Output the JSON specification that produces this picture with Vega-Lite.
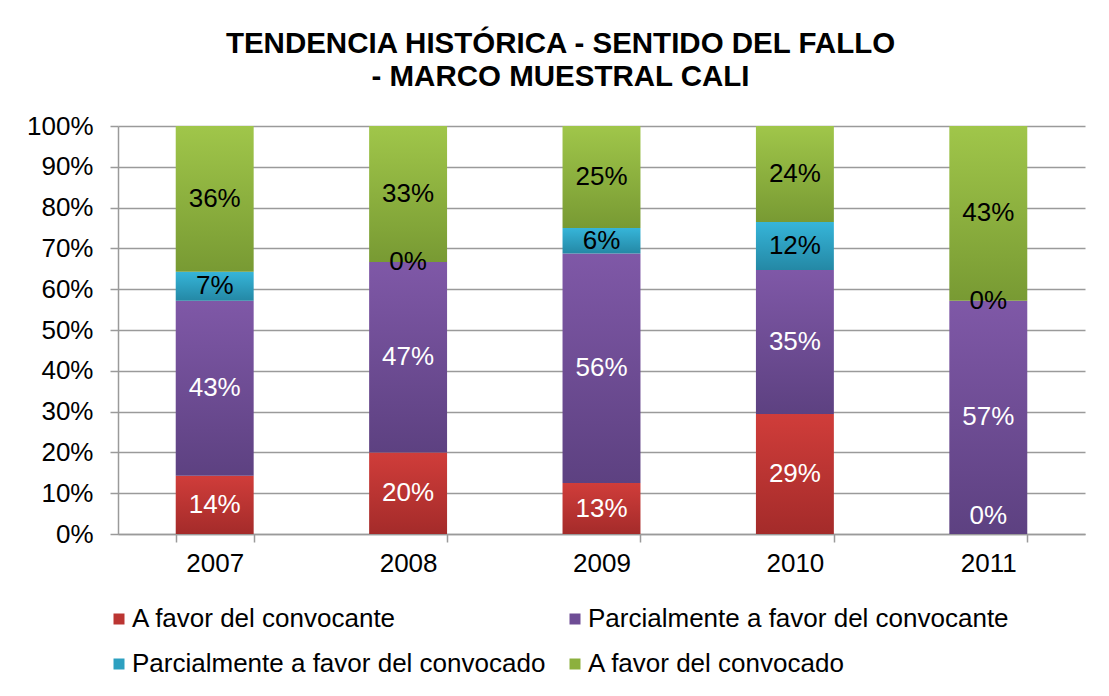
{
  "$schema": "https://vega.github.io/schema/vega-lite/v6.json",
  "width": 967,
  "height": 408,
  "autosize": "none",
  "padding": {"left": 118, "top": 126, "right": 24, "bottom": 162},
  "background": "white",
  "title": {
    "text": ["TENDENCIA HISTÓRICA - SENTIDO DEL FALLO", "- MARCO MUESTRAL CALI"],
    "font": "Liberation Sans",
    "fontSize": 29.5,
    "fontWeight": "bold",
    "color": "#000000",
    "anchor": "middle",
    "frame": "group",
    "dx": -41,
    "offset": 21,
    "lineHeight": 33
  },
  "data": {
    "values": [
      {"year": "2007", "series": "A favor del convocante", "order": 1, "v": 0.1429},
      {"year": "2007", "series": "Parcialmente a favor del convocante", "order": 2, "v": 0.4286},
      {"year": "2007", "series": "Parcialmente a favor del convocado", "order": 3, "v": 0.0714},
      {"year": "2007", "series": "A favor del convocado", "order": 4, "v": 0.3571},
      {"year": "2008", "series": "A favor del convocante", "order": 1, "v": 0.2},
      {"year": "2008", "series": "Parcialmente a favor del convocante", "order": 2, "v": 0.4667},
      {"year": "2008", "series": "Parcialmente a favor del convocado", "order": 3, "v": 0},
      {"year": "2008", "series": "A favor del convocado", "order": 4, "v": 0.3333},
      {"year": "2009", "series": "A favor del convocante", "order": 1, "v": 0.125},
      {"year": "2009", "series": "Parcialmente a favor del convocante", "order": 2, "v": 0.5625},
      {"year": "2009", "series": "Parcialmente a favor del convocado", "order": 3, "v": 0.0625},
      {"year": "2009", "series": "A favor del convocado", "order": 4, "v": 0.25},
      {"year": "2010", "series": "A favor del convocante", "order": 1, "v": 0.2941},
      {"year": "2010", "series": "Parcialmente a favor del convocante", "order": 2, "v": 0.3529},
      {"year": "2010", "series": "Parcialmente a favor del convocado", "order": 3, "v": 0.1176},
      {"year": "2010", "series": "A favor del convocado", "order": 4, "v": 0.2354},
      {"year": "2011", "series": "A favor del convocante", "order": 1, "v": 0},
      {"year": "2011", "series": "Parcialmente a favor del convocante", "order": 2, "v": 0.5714},
      {"year": "2011", "series": "Parcialmente a favor del convocado", "order": 3, "v": 0},
      {"year": "2011", "series": "A favor del convocado", "order": 4, "v": 0.4286}
    ]
  },
  "layer": [
    {
      "mark": {"type": "bar"},
      "encoding": {
        "x": {
          "field": "year",
          "type": "nominal",
          "scale": {"paddingInner": 0.597, "paddingOuter": 0.2985},
          "axis": {
            "title": null,
            "labelAngle": 0,
            "labelFont": "Liberation Sans",
            "labelFontSize": 26,
            "labelColor": "#000000",
            "labelPadding": 8,
            "tickBand": "extent",
            "tickSize": 8,
            "tickColor": "#9a9a9a",
            "tickWidth": 1.5,
            "domainColor": "#9a9a9a",
            "domainWidth": 1.5,
            "grid": false
          }
        },
        "y": {
          "field": "v",
          "type": "quantitative",
          "stack": "zero",
          "scale": {"domain": [0, 1], "nice": false},
          "axis": {
            "title": null,
            "format": ".0%",
            "values": [0, 0.1, 0.2, 0.3, 0.4, 0.5, 0.6, 0.7, 0.8, 0.9, 1],
            "labelFont": "Liberation Sans",
            "labelFontSize": 26,
            "labelColor": "#000000",
            "labelPadding": 17,
            "tickSize": 8,
            "tickColor": "#9a9a9a",
            "tickWidth": 1.5,
            "domainColor": "#9a9a9a",
            "domainWidth": 1.5,
            "grid": true,
            "gridColor": "#9a9a9a",
            "gridWidth": 1.5
          }
        },
        "fill": {
          "condition": [
            {"test": "datum.order == 1", "value": {"gradient": "linear", "x1": 0, "y1": 0, "x2": 0, "y2": 1, "stops": [{"offset": 0, "color": "#d03d3a"}, {"offset": 1, "color": "#a42b2a"}]}},
            {"test": "datum.order == 2", "value": {"gradient": "linear", "x1": 0, "y1": 0, "x2": 0, "y2": 1, "stops": [{"offset": 0, "color": "#7f58a7"}, {"offset": 1, "color": "#5d4181"}]}},
            {"test": "datum.order == 3", "value": {"gradient": "linear", "x1": 0, "y1": 0, "x2": 0, "y2": 1, "stops": [{"offset": 0, "color": "#36b5d9"}, {"offset": 1, "color": "#2488a5"}]}}
          ],
          "value": {"gradient": "linear", "x1": 0, "y1": 0, "x2": 0, "y2": 1, "stops": [{"offset": 0, "color": "#a0c64a"}, {"offset": 1, "color": "#789a33"}]}
        },
        "order": {"field": "order", "type": "quantitative"}
      }
    },
    {
      "transform": [{"filter": "false"}],
      "mark": {"type": "square", "filled": true, "opacity": 1},
      "encoding": {
        "x": {"field": "year", "type": "nominal"},
        "y": {"field": "v", "type": "quantitative"},
        "color": {
          "field": "series",
          "type": "nominal",
          "sort": ["A favor del convocante", "Parcialmente a favor del convocante", "Parcialmente a favor del convocado", "A favor del convocado"],
          "scale": {
            "domain": ["A favor del convocante", "Parcialmente a favor del convocante", "Parcialmente a favor del convocado", "A favor del convocado"],
            "range": ["#bb3532", "#6e4d95", "#2da0c0", "#8cb03e"]
          },
          "legend": {
            "title": null,
            "orient": "none",
            "legendX": -12,
            "legendY": 480,
            "padding": 0,
            "columns": 2,
            "direction": "horizontal",
            "symbolType": "square",
            "symbolSize": 121,
            "symbolStrokeWidth": 0,
            "symbolOpacity": 1,
            "labelFont": "Liberation Sans",
            "labelFontSize": 26,
            "labelColor": "#000000",
            "labelLimit": 600,
            "labelOffset": 0,
            "columnPadding": 16,
            "rowPadding": 19
          }
        }
      }
    },
    {
      "transform": [
        {"stack": "v", "groupby": ["year"], "sort": [{"field": "order", "order": "ascending"}], "as": ["v0", "v1"]},
        {"calculate": "(datum.v0 + datum.v1) / 2", "as": "mid"},
        {"filter": "!(datum.v == 0 && datum.order == 1)"}
      ],
      "mark": {"type": "text", "font": "Liberation Sans", "fontSize": 26, "baseline": "middle", "align": "center"},
      "encoding": {
        "x": {"field": "year", "type": "nominal"},
        "y": {"field": "mid", "type": "quantitative"},
        "text": {"field": "v", "type": "quantitative", "format": ".0%"},
        "color": {
          "condition": {"test": "datum.order <= 2", "value": "#ffffff"},
          "value": "#000000"
        }
      }
    },
    {
      "transform": [
        {"filter": "datum.v == 0 && datum.order == 1"}
      ],
      "mark": {"type": "text", "font": "Liberation Sans", "fontSize": 26, "baseline": "middle", "align": "center", "dy": -18, "color": "#ffffff"},
      "encoding": {
        "x": {"field": "year", "type": "nominal"},
        "y": {"field": "v", "type": "quantitative"},
        "text": {"field": "v", "type": "quantitative", "format": ".0%"}
      }
    }
  ],
  "config": {
    "view": {"stroke": null}
  }
}
